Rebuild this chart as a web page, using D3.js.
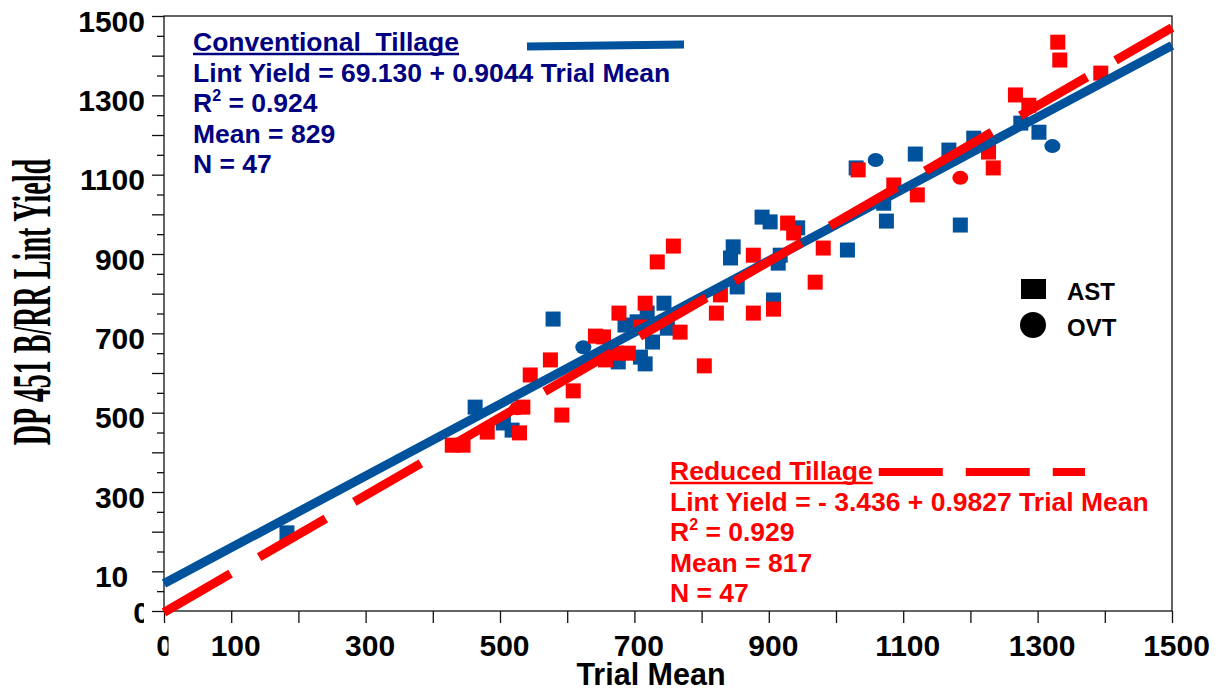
<!DOCTYPE html>
<html>
<head>
<meta charset="utf-8">
<script src="https://cdn.jsdelivr.net/npm/d3@7"></script>
<style>
    body { margin: 0; background: #fff; }
    svg { display: block; }
    text { font-family: "Liberation Sans", Arial, sans-serif; font-weight: bold; }
    .axis path { display: none; }
    .axis line { stroke: #111; stroke-width: 1.3; }
    .axis text { font-size: 30px; fill: #000; }
</style>
</head>
<body>
<svg width="1222" height="692"></svg>
<script>
"use strict";

// conventional tillage (blue), [trial mean, lint yield]
var conventionalAst = [
    [183, 197], [463, 514], [505, 474], [518, 456], [579, 736],
    [686, 721], [704, 729], [719, 751], [744, 776], [749, 713],
    [727, 678], [676, 628], [709, 640], [716, 623], [843, 890],
    [847, 918], [853, 817], [917, 897], [914, 877], [907, 784],
    [890, 993], [902, 981], [943, 966], [1017, 910], [1030, 1117],
    [1071, 1028], [1075, 983], [1118, 1152], [1168, 1162], [1185, 973],
    [1205, 1192], [1275, 1230], [1302, 1207]
];
var conventionalOvt = [[624, 665], [1059, 1137], [1322, 1172]];

// reduced tillage (red)
var reducedAst = [
    [429, 418], [445, 418], [481, 451], [529, 449], [534, 514],
    [545, 595], [575, 633], [592, 494], [609, 555], [642, 693],
    [654, 691], [657, 633], [674, 650], [691, 650], [677, 751],
    [716, 776], [709, 716], [768, 703], [734, 880], [758, 920],
    [804, 618], [822, 751], [828, 797], [877, 897], [877, 751],
    [907, 761], [928, 978], [937, 953], [969, 829], [981, 915],
    [1033, 1112], [1086, 1074], [1121, 1049], [1227, 1157], [1234, 1117],
    [1267, 1301], [1287, 1275], [1330, 1434], [1333, 1389], [1394, 1356]
];
var reducedOvt = [[526, 511], [1185, 1092]];

var conventionalFit = {intercept: 69.130, slope: 0.9044};
var reducedFit = {intercept: -3.436, slope: 0.9827};

var conventionalText = [
    "Lint Yield = 69.130 + 0.9044 Trial Mean",
    "R2 = 0.924",
    "Mean = 829",
    "N = 47"
];
var reducedText = [
    "Lint Yield = - 3.436 + 0.9827 Trial Mean",
    "R2 = 0.929",
    "Mean = 817",
    "N = 47"
];

var xTicks = [0, 100, 200, 300, 400, 500, 600, 700, 800, 900, 1000, 1100,
        1200, 1300, 1400, 1500];
var xTickLabels = ["0", "100", "", "300", "", "500", "", "700", "", "900",
        "", "1100", "", "1300", "", "1500"];
var yTicks = xTicks;
var yTickLabels = ["0", "10\u2007", "", "300", "", "500", "", "700", "",
        "900", "", "1100", "", "1300", "", "1500"];
var yMinorTicks = [50, 150, 250, 350, 450, 550, 650, 750, 850, 950, 1050,
        1150, 1250, 1350, 1450];

var blue = "#00529c";
var red = "#ff0000";
var navy = "#000080";

var svg = d3.select("svg");

var x = d3.scaleLinear().domain([0, 1500]).range([164, 1172]);
var y = d3.scaleLinear().domain([0, 1500]).range([611, 16]);

// clip paths for the cut-off zero labels
var defs = svg.append("defs");
defs.append("clipPath").attr("id", "clip-y0")
    .append("rect").attr("x", -80).attr("y", -40)
    .attr("width", 60).attr("height", 80);
defs.append("clipPath").attr("id", "clip-x0")
    .append("rect").attr("x", -40).attr("y", 0)
    .attr("width", 44).attr("height", 80);

// frame
svg.append("rect")
    .attr("x", x(0))
    .attr("y", y(1500))
    .attr("width", x(1500) - x(0))
    .attr("height", y(0) - y(1500))
    .attr("fill", "none")
    .attr("stroke", "#111")
    .attr("stroke-width", 1.3);

// axes
var xAxisGroup = svg.append("g")
    .attr("class", "axis x")
    .attr("transform", "translate(0," + y(0) + ")")
    .call(d3.axisBottom(x).tickValues(xTicks).tickSize(12).tickSizeOuter(0)
        .tickFormat(function (ignore, i) {
            return xTickLabels[i];
        }));
xAxisGroup.selectAll("text")
    .attr("y", 45)
    .attr("dy", null)
    .attr("x", function (d) {
        return d === 0 ? 0 : 4;
    })
    .attr("clip-path", function (d) {
        return d === 0 ? "url(#clip-x0)" : null;
    });

var yAxisGroup = svg.append("g")
    .attr("class", "axis y")
    .attr("transform", "translate(" + x(0) + ",0)")
    .call(d3.axisLeft(y).tickValues(yTicks).tickSize(12).tickSizeOuter(0)
        .tickFormat(function (ignore, i) {
            return yTickLabels[i];
        }));
yAxisGroup.selectAll("text")
    .attr("dy", null)
    .attr("y", function (d) {
        return d === 0 ? 11 : 15;
    })
    .attr("x", function (d) {
        return d === 0 ? -14 : -19;
    })
    .attr("clip-path", function (d) {
        return d === 0 ? "url(#clip-y0)" : null;
    });

svg.append("g")
    .attr("class", "axis y-minor")
    .attr("transform", "translate(" + x(0) + ",0)")
    .call(d3.axisLeft(y).tickValues(yMinorTicks).tickSize(7)
        .tickSizeOuter(0).tickFormat(""));

// axis titles
svg.append("text")
    .attr("x", 651)
    .attr("y", 685)
    .attr("text-anchor", "middle")
    .style("font-size", "30.5px")
    .text("Trial Mean");

// condensed serif title: natural width squeezed to the drawn length
svg.append("text")
    .attr("transform", "translate(50,302) rotate(-90) scale(0.52,1)")
    .attr("text-anchor", "middle")
    .style("font-family", "'Liberation Serif', 'Times New Roman', serif")
    .style("font-size", "54px")
    .text("DP 451 B/RR Lint Yield");

// points
var drawSquares = function (data, colour) {
    svg.append("g").selectAll("rect")
        .data(data)
        .join("rect")
        .attr("x", function (d) {
            return x(d[0]) - 7.5;
        })
        .attr("y", function (d) {
            return y(d[1]) - 7.5;
        })
        .attr("width", 15)
        .attr("height", 15)
        .attr("fill", colour);
};
var drawCircles = function (data, colour) {
    svg.append("g").selectAll("ellipse")
        .data(data)
        .join("ellipse")
        .attr("cx", function (d) {
            return x(d[0]);
        })
        .attr("cy", function (d) {
            return y(d[1]);
        })
        .attr("rx", 8)
        .attr("ry", 7)
        .attr("fill", colour);
};
drawSquares(conventionalAst, blue);
drawCircles(conventionalOvt, blue);
drawSquares(reducedAst, red);
drawCircles(reducedOvt, red);

// fitted lines
var fitLine = function (fit) {
    return d3.line()
        .x(function (d) {
            return x(d);
        })
        .y(function (d) {
            return y(fit.intercept + fit.slope * d);
        });
};
svg.append("path")
    .datum([0, 1500])
    .attr("d", fitLine(conventionalFit))
    .attr("fill", "none")
    .attr("stroke", blue)
    .attr("stroke-width", 9);
svg.append("path")
    .datum([0, 1500])
    .attr("d", fitLine(reducedFit))
    .attr("fill", "none")
    .attr("stroke", red)
    .attr("stroke-width", 9)
    .attr("stroke-dasharray", "77,33");

// text blocks
var addBlock = function (spec) {
    var title = svg.append("text")
        .attr("x", spec.left)
        .attr("y", spec.top)
        .attr("fill", spec.colour)
        .style("font-size", "26.5px")
        .attr("xml:space", "preserve")
        .text(spec.title);
    var titleWidth = title.node().getComputedTextLength();
    svg.append("line")
        .attr("x1", spec.left)
        .attr("x2", spec.left + titleWidth)
        .attr("y1", spec.top + 3)
        .attr("y2", spec.top + 3)
        .attr("stroke", spec.colour)
        .attr("stroke-width", 2.5);
    spec.lines.forEach(function (line, i) {
        var t = svg.append("text")
            .attr("x", spec.left)
            .attr("y", spec.top + 30.5 * (i + 1))
            .attr("fill", spec.colour)
            .style("font-size", "26.5px");
        if (line.indexOf("R2") === 0) {
            t.append("tspan").text("R");
            t.append("tspan")
                .attr("dy", -11)
                .style("font-size", "16px")
                .text("2");
            t.append("tspan")
                .attr("dy", 11)
                .text(line.slice(2));
        } else {
            t.text(line);
        }
    });
    return titleWidth;
};

addBlock({
    left: 193,
    top: 51,
    colour: navy,
    title: "Conventional  Tillage",
    lines: conventionalText
});
var reducedTitleWidth = addBlock({
    left: 670,
    top: 480,
    colour: red,
    title: "Reduced Tillage",
    lines: reducedText
});

// legend samples for the lines
svg.append("line")
    .attr("x1", 527).attr("y1", 46.5)
    .attr("x2", 684).attr("y2", 44.5)
    .attr("stroke", blue)
    .attr("stroke-width", 8);
svg.append("line")
    .attr("x1", 670 + reducedTitleWidth + 6).attr("y1", 472)
    .attr("x2", 1085).attr("y2", 472)
    .attr("stroke", red)
    .attr("stroke-width", 8)
    .attr("stroke-dasharray", "64,23");

// symbol legend
svg.append("rect")
    .attr("x", 1021).attr("y", 279)
    .attr("width", 25).attr("height", 20)
    .attr("fill", "#000");
svg.append("circle")
    .attr("cx", 1033).attr("cy", 325)
    .attr("r", 13)
    .attr("fill", "#000");
svg.append("text")
    .attr("x", 1067).attr("y", 300)
    .style("font-size", "24px")
    .text("AST");
svg.append("text")
    .attr("x", 1067).attr("y", 336)
    .style("font-size", "24px")
    .text("OVT");
</script>
</body>
</html>
